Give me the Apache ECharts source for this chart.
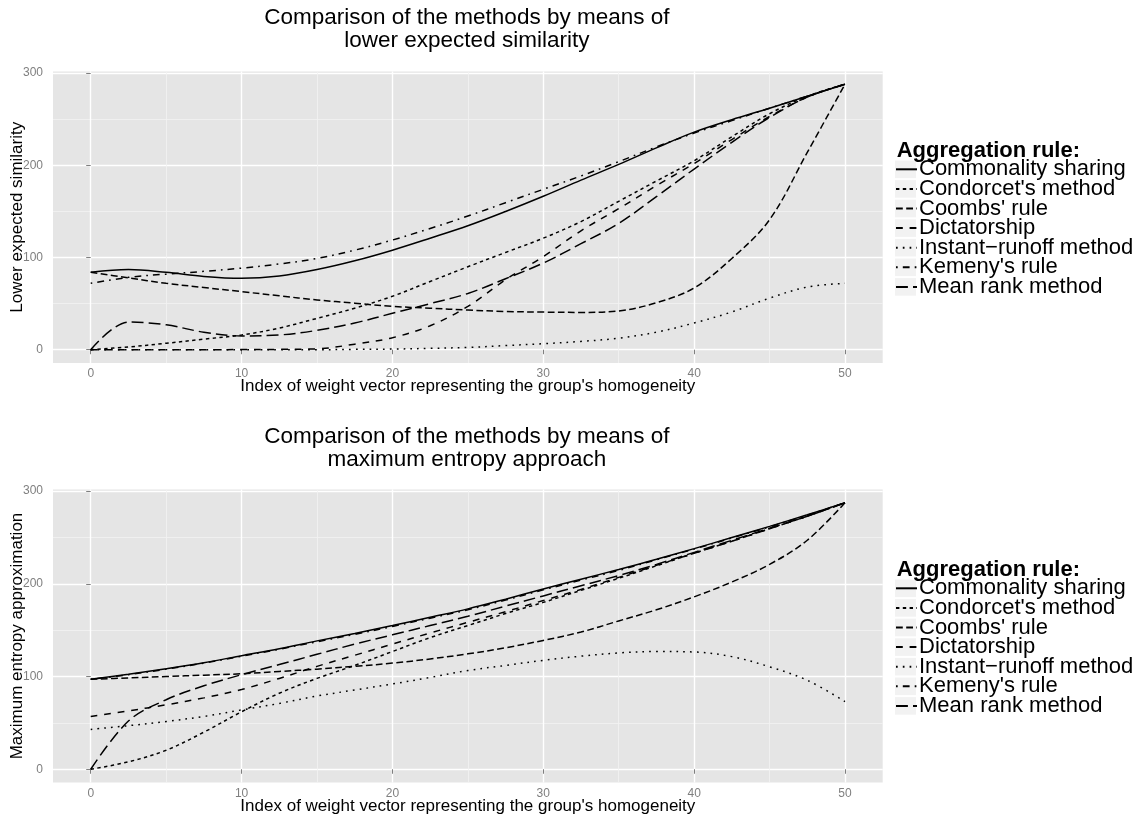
<!DOCTYPE html>
<html>
<head>
<meta charset="utf-8">
<script src="https://cdn.jsdelivr.net/npm/echarts@6/dist/echarts.min.js"></script>
<style>
  html, body { margin: 0; padding: 0; background: #ffffff; }
  #chart { width: 1146px; height: 823px; }
</style>
</head>
<body>
<div id="chart"></div>
<script>
// Index of the weight vector (shared x positions)
const X = [0, 2.5, 5, 7.5, 10, 12.5, 15, 17.5, 20, 22.5, 25, 27.5, 30, 32.5, 35, 37.5, 40, 42.5, 45, 47.5, 50];

// Axis ticks
const xTicks = [0, 10, 20, 30, 40, 50];
const xMinorTicks = [5, 15, 25, 35, 45];
const yTicks = [0, 100, 200, 300];
const yMinorTicks = [50, 150, 250];

const methods = [
  "Commonality sharing",
  "Condorcet's method",
  "Coombs' rule",
  "Dictatorship",
  "Instant\u2212runoff method",
  "Kemeny's rule",
  "Mean rank method"
];

// Lower expected similarity
const lesCommonality  = [84, 87, 84, 79.5, 77.5, 80, 87, 96.5, 108, 121, 134.5, 150, 166.5, 184, 201, 219, 236, 249.5, 262, 275, 288];
const lesCondorcet    = [0, 3, 7, 11.5, 16, 23.5, 34, 45, 58, 74, 90, 105.5, 121, 139, 161, 183, 205, 231, 256, 275, 288];
const lesCoombs       = [84, 78, 72, 67.5, 63, 58.5, 54, 50.5, 47, 45, 43, 41.5, 40.8, 40.5, 42, 51, 67, 99, 141, 214, 288];
const lesDictatorship = [0, 0, 0, 0, 0.2, 0.4, 1, 6, 13, 26, 47, 76, 101, 129, 153, 178, 202, 228, 253, 274, 288];
const lesInstant      = [0, 0, 0, 0, 0, 0, 0, 0.4, 0.7, 1.5, 2.5, 4.5, 6.5, 9, 12.5, 19, 29, 41, 56, 68, 72];
const lesKemeny       = [72, 78.5, 82, 85, 88.5, 93, 99, 108, 119, 131.5, 145, 159.5, 174, 188.5, 204, 220, 235, 248.5, 262, 275, 288];
const lesMeanRank     = [0, 30, 27, 19, 15, 16, 21, 29, 39.5, 50, 61, 77, 94, 115, 137, 166, 196, 225, 252, 274, 288];

// Maximum entropy approximation
const meCommonality  = [97, 102.5, 108.5, 115, 122.5, 130, 138.5, 146.5, 155, 164, 173, 183.5, 194.5, 205, 215.5, 226.5, 238, 250, 262, 274.5, 287.5];
const meCondorcet    = [0, 8, 20.5, 40, 62, 82, 98, 112, 127, 142, 155, 168, 180, 193, 206, 219.5, 233, 246, 259.5, 273, 287.5];
const meCoombs       = [97, 98.5, 100, 101.5, 103, 105.5, 108, 111, 114.5, 119, 124.5, 131, 139, 148, 160, 172, 186, 202, 221, 247, 287.5];
const meDictatorship = [57, 63, 69.5, 77, 86, 98, 111, 123, 135, 147, 158.5, 170, 182, 194, 207, 220, 233, 246, 259.5, 273, 287.5];
const meInstant      = [43, 47, 51.5, 57, 64, 71, 79, 85.5, 92, 99, 106.5, 112, 117.5, 122, 125.5, 127, 126.5, 121.5, 110.5, 96, 73];
const meKemeny       = [97, 102, 108, 114.5, 122, 129.5, 137.5, 145.5, 154, 163, 172, 182.5, 193.5, 204, 214.5, 226, 237.5, 249.5, 261.5, 274, 287.5];
const meMeanRank     = [0, 52, 75, 90, 102, 113, 124, 135, 145, 155, 165, 176, 187, 198, 209, 221, 234, 247, 260, 273, 287.5];

const lowerSimilarity = [lesCommonality, lesCondorcet, lesCoombs, lesDictatorship, lesInstant, lesKemeny, lesMeanRank];
const maxEntropy = [meCommonality, meCondorcet, meCoombs, meDictatorship, meInstant, meKemeny, meMeanRank];

// Line types: solid, 22, 42, 44, 13, 1343, 73 (units of 1.7px)
const U = 1.7;
const dashes = [
  'solid',
  [2 * U, 2 * U],
  [4 * U, 2 * U],
  [4 * U, 4 * U],
  [1 * U, 3 * U],
  [1 * U, 3 * U, 4 * U, 3 * U],
  [7 * U, 3 * U]
];

const FONT = "'Liberation Sans', Arial, Helvetica, sans-serif";
const GREY = '#7f7f7f';

const panels = [
  {
    top: 71.4, height: 291.6,
    title: 'Comparison of the methods by means of\nlower expected similarity',
    titleY: 29.5,
    yName: 'Lower expected similarity',
    values: lowerSimilarity,
    legendTop: 158.3,
    legendTitleY: 150.7
  },
  {
    top: 489.4, height: 293.2,
    title: 'Comparison of the methods by means of\nmaximum entropy approach',
    titleY: 448.5,
    yName: 'Maximum entropy approximation',
    values: maxEntropy,
    legendTop: 577.3,
    legendTitleY: 569.7
  }
];

const PANEL_LEFT = 53;
const PANEL_WIDTH = 829.7;
const ROW = 19.6;        // legend row pitch
const LEGEND_FONT = 22;  // legend label size

const grids = [], xAxes = [], yAxes = [], series = [], legends = [], graphics = [];

panels.forEach((p, pi) => {
  grids.push({
    left: PANEL_LEFT, top: p.top, width: PANEL_WIDTH, height: p.height,
    show: true, backgroundColor: '#e5e5e5', borderWidth: 0,
    containLabel: false, outerBoundsMode: 'none'
  });

  // minor grid lines
  xAxes.push({
    type: 'value', gridIndex: pi, min: -2.5, max: 52.5, position: 'bottom',
    axisLine: { show: false }, axisTick: { show: false, customValues: xMinorTicks },
    axisLabel: { show: false }, splitLine: { show: true, lineStyle: { color: '#f2f2f2', width: 0.8 } }
  });
  // major grid lines, ticks and labels
  xAxes.push({
    type: 'value', gridIndex: pi, min: -2.5, max: 52.5, position: 'bottom',
    axisLine: { show: false },
    axisTick: { show: true, customValues: xTicks, length: 4.5, lineStyle: { color: GREY, width: 1 } },
    axisLabel: { customValues: xTicks, color: GREY, fontSize: 12, margin: 5, fontFamily: FONT },
    splitLine: { show: true, lineStyle: { color: '#ffffff', width: 1.4 } },
    name: "Index of weight vector representing the group's homogeneity",
    nameLocation: 'middle', nameGap: 15, nameMoveOverlap: false,
    nameTextStyle: { color: '#000', fontSize: 17, fontFamily: FONT, verticalAlign: 'top' }
  });

  yAxes.push({
    type: 'value', gridIndex: pi, min: -14.4, max: 301.9, position: 'left',
    axisLine: { show: false }, axisTick: { show: false, customValues: yMinorTicks },
    axisLabel: { show: false }, splitLine: { show: true, lineStyle: { color: '#f2f2f2', width: 0.8 } }
  });
  yAxes.push({
    type: 'value', gridIndex: pi, min: -14.4, max: 301.9, position: 'left',
    axisLine: { show: false },
    axisTick: { show: true, customValues: yTicks, length: 4.5, lineStyle: { color: GREY, width: 1 } },
    axisLabel: { customValues: yTicks, color: GREY, fontSize: 12, margin: 10, fontFamily: FONT },
    splitLine: { show: true, lineStyle: { color: '#ffffff', width: 1.4 } },
    name: p.yName, nameLocation: 'middle', nameGap: 27, nameMoveOverlap: false,
    nameTextStyle: { color: '#000', fontSize: 17, fontFamily: FONT }
  });

  methods.forEach((m, mi) => {
    const vals = p.values[mi];
    series.push({
      type: 'line', name: m,
      xAxisIndex: pi * 2 + 1, yAxisIndex: pi * 2 + 1,
      data: X.map((x, i) => [x, vals[i]]),
      smooth: 0.35,
      symbol: 'none', showSymbol: false,
      lineStyle: { color: '#000', width: 1.5, type: dashes[mi] },
      itemStyle: { color: '#000' },
      silent: true, animation: false
    });
  });

  // legend key backgrounds, one per row
  methods.forEach((m, mi) => {
    graphics.push({
      type: 'rect', z: 0,
      shape: { x: 895, y: p.legendTop + LEGEND_FONT / 2 - (ROW - 2) / 2 + mi * ROW, width: 21, height: ROW - 2 },
      style: { fill: '#f2f2f2' }
    });
  });

  legends.push({
    orient: 'vertical', left: 895, top: p.legendTop, padding: 0,
    itemGap: ROW - LEGEND_FONT,
    itemWidth: 21, itemHeight: 14, selectedMode: false,
    itemStyle: { opacity: 0 },
    data: methods,
    textStyle: { color: '#000', fontSize: LEGEND_FONT, fontFamily: FONT, padding: [0, 0, 0, -3] }
  });

  graphics.push({
    type: 'text', x: 896.7, y: p.legendTitleY,
    style: {
      text: 'Aggregation rule:', fill: '#000', fontSize: 22, fontWeight: 'bold', fontFamily: FONT,
      align: 'left', verticalAlign: 'middle', textAlign: 'left', textVerticalAlign: 'middle'
    }
  });

  graphics.push({
    type: 'text', x: PANEL_LEFT + PANEL_WIDTH / 2 - 1, y: p.titleY,
    style: {
      text: p.title, fill: '#000', fontSize: 22.5, fontFamily: FONT, lineHeight: 23,
      align: 'center', verticalAlign: 'middle', textAlign: 'center', textVerticalAlign: 'middle'
    }
  });
});

const chart = echarts.init(document.getElementById('chart'), null, { renderer: 'canvas' });
chart.setOption({
  backgroundColor: '#ffffff',
  animation: false,
  grid: grids,
  xAxis: xAxes,
  yAxis: yAxes,
  legend: legends,
  graphic: graphics,
  series: series
});
</script>
</body>
</html>
